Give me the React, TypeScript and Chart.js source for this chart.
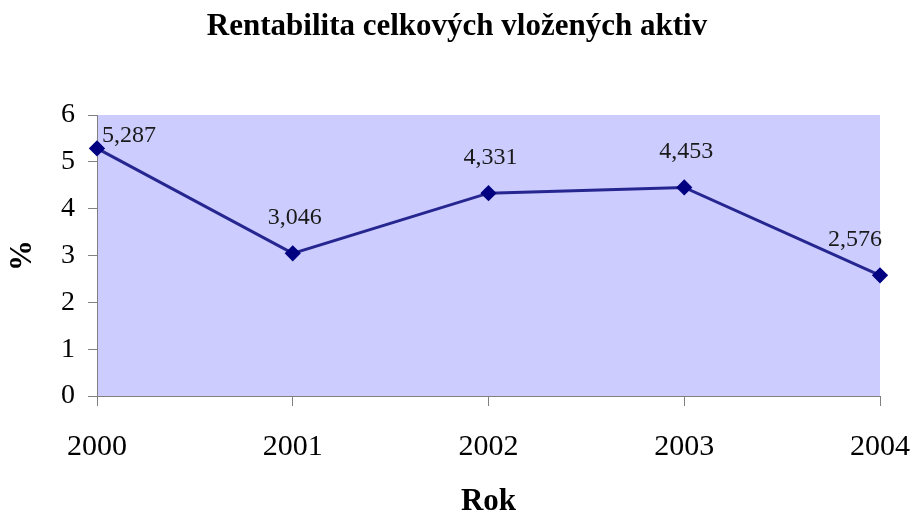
import React, { useEffect, useRef } from "react";
import { Chart, registerables } from "chart.js";

Chart.register(...registerables);

const years = ["2000", "2001", "2002", "2003", "2004"];
const values = [5.287, 3.046, 4.331, 4.453, 2.576];
const yTicks = [0, 1, 2, 3, 4, 5, 6];
const titleText = "Rentabilita celkových vložených aktiv";
const xTitle = "Rok";
const yTitle = "%";

const SERIF = '"Liberation Serif", "Times New Roman", serif';

const bgPlugin = {
  id: "plotBg",
  beforeDraw(chart: any) {
    const { ctx, chartArea } = chart;
    ctx.save();
    ctx.fillStyle = "#CCCCFF";
    ctx.fillRect(chartArea.left, chartArea.top, chartArea.right - chartArea.left, chartArea.bottom - chartArea.top);
    ctx.restore();
  },
};

const labelPlugin = {
  id: "valueLabels",
  afterDatasetsDraw(chart: any) {
    const { ctx, chartArea } = chart;
    const meta = chart.getDatasetMeta(0);
    ctx.save();
    ctx.font = `24px ${SERIF}`;
    ctx.fillStyle = "#1a1a1a";
    ctx.textBaseline = "alphabetic";
    ctx.textAlign = "left";
    meta.data.forEach((pt: any, i: number) => {
      const txt = values[i].toFixed(3).replace(".", ",");
      const w = ctx.measureText(txt).width;
      let left = pt.x + 2 - w / 2;
      let base = pt.y - 29;
      if (left < chartArea.left + 5) left = chartArea.left + 5;
      if (left + w > chartArea.right + 2) left = chartArea.right + 2 - w;
      if (base < chartArea.top + 27) base = chartArea.top + 27;
      ctx.fillText(txt, left, base);
    });
    ctx.restore();
  },
};

export default function App() {
  const ref = useRef<HTMLCanvasElement | null>(null);
  useEffect(() => {
    document.body.style.margin = "0";
    const chart = new Chart(ref.current as HTMLCanvasElement, {
      type: "line",
      data: {
        labels: years,
        datasets: [
          {
            data: values,
            borderColor: "#262690",
            borderWidth: 3,
            pointStyle: "rectRot",
            pointRadius: 6,
            pointBackgroundColor: "#000080",
            pointBorderColor: "#000080",
            tension: 0,
          },
        ],
      },
      options: {
        animation: false,
        responsive: false,
        layout: { padding: { left: 34, right: 33, top: 0, bottom: 0 } },
        plugins: {
          legend: { display: false },
          tooltip: { enabled: false },
          title: {
            display: true,
            text: titleText,
            color: "#000",
            font: { family: SERIF, size: 31, weight: "bold", lineHeight: 1 },
            padding: { top: 11, bottom: 73 },
          },
        },
        scales: {
          x: {
            offset: false,
            afterFit(scale: any) {
              scale.height = 121;
              scale.paddingLeft = 0;
              scale.paddingRight = 0;
            },
            grid: {
              drawOnChartArea: false,
              drawTicks: true,
              tickLength: 10,
              color: "#808080",
            },
            border: { color: "#808080", width: 1 },
            ticks: {
              color: "#000",
              font: { family: SERIF, size: 30 },
              padding: 23,
              maxRotation: 0,
            },
            title: {
              display: true,
              text: xTitle,
              color: "#000",
              font: { family: SERIF, size: 31, weight: "bold", lineHeight: 1 },
              padding: 0,
            },
          },
          y: {
            min: 0,
            max: 6,
            afterFit(scale: any) {
              scale.width = 63;
              scale.paddingTop = 0;
              scale.paddingBottom = 0;
            },
            afterBuildTicks(scale: any) {
              scale.ticks = yTicks.map((v) => ({ value: v }));
            },
            grid: {
              drawOnChartArea: false,
              drawTicks: true,
              tickLength: 9,
              color: "#808080",
            },
            border: { color: "#808080", width: 1 },
            ticks: {
              stepSize: 1,
              color: "#000",
              font: { family: SERIF, size: 28 },
              padding: 13,
            },
            title: {
              display: true,
              text: yTitle,
              color: "#000",
              font: { family: SERIF, size: 31, weight: "bold", lineHeight: 1 },
              padding: { top: -27, bottom: 0 },
            },
          },
        },
      },
      plugins: [bgPlugin, labelPlugin],
    } as any);
    return () => chart.destroy();
  }, []);
  return (
    <div style={{ position: "absolute", left: 0, top: 0, width: 913, height: 517 }}>
      <canvas ref={ref} width={913} height={517} style={{ width: 913, height: 517, display: "block" }} />
    </div>
  );
}
